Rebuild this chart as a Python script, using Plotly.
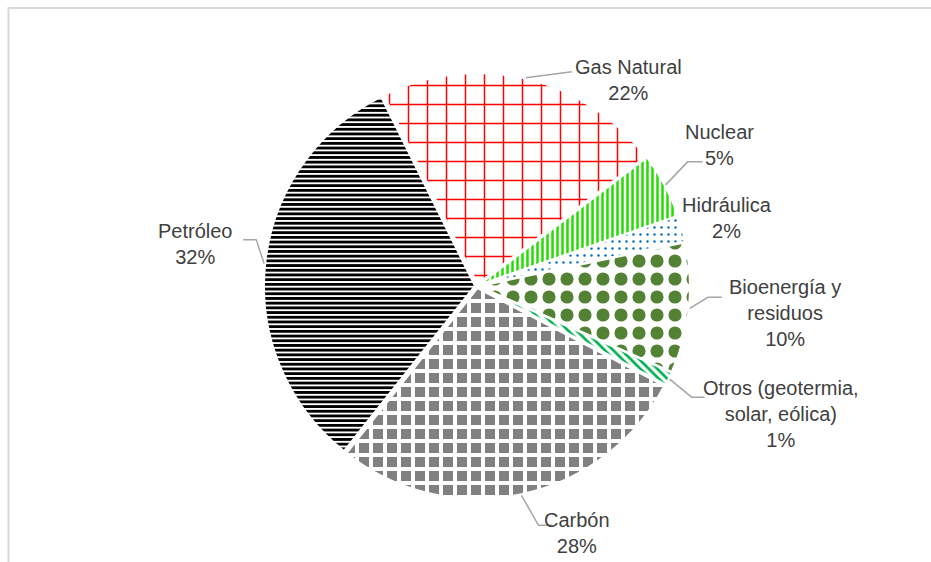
import math
import plotly.graph_objects as go

# Energy mix shares (percent)
labels = ["Gas Natural", "Nuclear", "Hidráulica", "Bioenergía y residuos",
          "Otros (geotermia, solar, eólica)", "Carbón", "Petróleo"]
values = [22, 5, 2, 10, 1, 28, 32]
label_texts = ["Gas Natural<br>22%", "Nuclear<br>5%", "Hidráulica<br>2%",
               "Bioenergía y<br>residuos<br>10%",
               "Otros (geotermia,<br>solar, eólica)<br>1%",
               "Carbón<br>28%", "Petróleo<br>32%"]

# Fill patterns for each slice
pat_shapes = ["+", "|", ".", ".", "\\", "+", "-"]
pat_fg = ["#ff0000", "#22dd00", "#0070c0", "#548235", "#00b050", "#ffffff", "#000000"]
pat_bg = ["#ffffff", "#ffffff", "#ffffff", "#ffffff", "#ffffff", "#808080", "#ffffff"]
pat_size = [19, 5, 7, 18, 6, 14, 4.7]
pat_solid = [0.15, 0.5, 0.1, 0.42, 0.45, 0.49, 0.6]

W, H = 931, 562
CX, CY, HALF = 477, 286, 213      # pie centre and half-size of its domain (px)
ROTATION = -26.4                  # start angle of first slice, clockwise from 12 o'clock
PULL = 0.01
R_ANCHOR = 214

# label offsets from each slice's outer anchor point (px) and leader-line bends
label_offsets = [(103, 2), (54, -40), (44, -10), (95, 5), (111, 35), (56, 38), (-69, -20)]
leader_bends = [
    [(46, -6)],
    [(22, -23), (37, -23)],
    [],
    [(18, -11), (32, -11)],
    [(22, 18), (35, 18)],
    [(17, 30), (31, 30)],
    [(-8, -24), (-21, -24)],
]

def px(x):
    return x / W

def py(y):
    return 1 - y / H

fig = go.Figure(go.Pie(
    labels=labels,
    values=values,
    sort=False,
    direction="clockwise",
    rotation=ROTATION,
    pull=PULL,
    textinfo="none",
    hoverinfo="label+percent",
    showlegend=False,
    domain=dict(x=[px(CX - HALF), px(CX + HALF)], y=[py(CY + HALF), py(CY - HALF)]),
    marker=dict(
        colors=pat_fg,
        line=dict(color="#ffffff", width=2),
        pattern=dict(shape=pat_shapes, fgcolor=pat_fg, bgcolor=pat_bg,
                     size=pat_size, solidity=pat_solid, fillmode="replace"),
    ),
))

total = sum(values)
cum = 0
annotations = []
shapes = []
for i, v in enumerate(values):
    mid = math.radians(ROTATION + 360 * (cum + v / 2) / total)
    cum += v
    ax = CX + R_ANCHOR * math.sin(mid)
    ay = CY - R_ANCHOR * math.cos(mid)
    dx, dy = label_offsets[i]
    annotations.append(dict(
        x=px(ax + dx), y=py(ay + dy), xref="paper", yref="paper",
        text=label_texts[i], showarrow=False, xanchor="center", yanchor="middle",
        align="center", font=dict(size=20, color="#404040"),
    ))
    if leader_bends[i]:
        pts = [(ax, ay)] + [(ax + bx, ay + by) for bx, by in leader_bends[i]]
        path = "M " + " L ".join(f"{px(x):.5f},{py(y):.5f}" for x, y in pts)
        shapes.append(dict(type="path", xref="paper", yref="paper", path=path,
                           line=dict(color="#a6a6a6", width=1.5)))

# chart frame
shapes.append(dict(type="rect", xref="paper", yref="paper",
                   x0=px(8.5), x1=1.05, y0=-0.05, y1=py(8),
                   line=dict(color="#d9d9d9", width=2), layer="below"))

fig.update_layout(
    width=W, height=H,
    margin=dict(l=0, r=0, t=0, b=0),
    paper_bgcolor="#ffffff",
    plot_bgcolor="#ffffff",
    font=dict(family="Liberation Sans, Arial, sans-serif", color="#404040"),
    annotations=annotations,
    shapes=shapes,
)

fig.write_html("out.html")
